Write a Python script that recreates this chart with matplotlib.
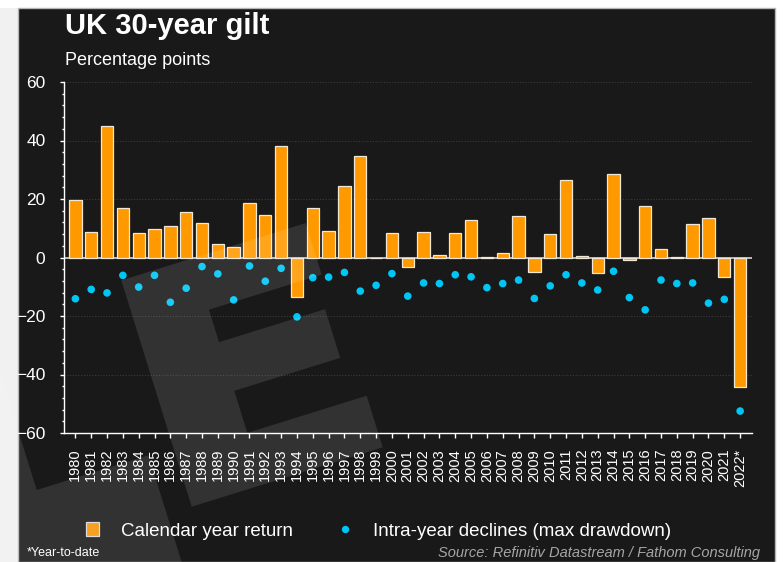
import matplotlib
matplotlib.use("Agg")
import matplotlib.pyplot as plt
from matplotlib.patches import Patch, Polygon, Rectangle
from matplotlib.lines import Line2D
from matplotlib.ticker import MultipleLocator
import numpy as np

plt.rcParams['font.family'] = ['Liberation Sans', 'DejaVu Sans']

# ---------------- data ----------------
years = ["1980", "1981", "1982", "1983", "1984", "1985", "1986", "1987", "1988", "1989",
         "1990", "1991", "1992", "1993", "1994", "1995", "1996", "1997", "1998", "1999",
         "2000", "2001", "2002", "2003", "2004", "2005", "2006", "2007", "2008", "2009",
         "2010", "2011", "2012", "2013", "2014", "2015", "2016", "2017", "2018", "2019",
         "2020", "2021", "2022*"]
calendar_return = [19.7, 8.8, 45.1, 17.0, 8.3, 9.6, 10.7, 15.4, 11.7, 4.5,
                   3.5, 18.6, 14.6, 38.0, -13.4, 16.8, 9.2, 24.4, 34.8, -0.3,
                   8.3, -3.4, 8.8, 0.9, 8.3, 12.8, 0.3, 1.6, 14.1, -5.1,
                   8.0, 26.5, 0.5, -5.3, 28.4, -0.7, 17.5, 3.0, 0.2, 11.5,
                   13.5, -6.5, -44.2]
max_drawdown = [-14.1, -10.9, -12.1, -6.1, -10.1, -6.1, -15.3, -10.5, -3.1, -5.6,
                -14.5, -2.9, -8.1, -3.7, -20.3, -6.9, -6.7, -5.1, -11.5, -9.5,
                -5.5, -13.2, -8.7, -8.9, -5.9, -6.6, -10.3, -8.9, -7.7, -14.0,
                -9.7, -5.9, -8.7, -11.1, -4.7, -13.7, -17.9, -7.7, -8.9, -8.7,
                -15.6, -14.3, -52.5]
y_ticks = [-60, -40, -20, 0, 20, 40, 60]

# ---------------- style ----------------
W, H = 784, 562
BG = '#191919'
ORANGE = '#ff9900'
CYAN = '#00c6f5'
WHITE = '#ffffff'

fig = plt.figure(figsize=(W / 100, H / 100), dpi=100, facecolor='white')

# dark panel + light left strip
fig.patches.append(Rectangle((0, 0), 18 / W, 1 - 8 / H, transform=fig.transFigure,
                             facecolor='#f1f1f1', edgecolor='none', zorder=-10))
fig.patches.append(Rectangle((18 / W, 0), (775 - 18) / W, 1 - 8 / H, transform=fig.transFigure,
                             facecolor=BG, edgecolor='#b5b5b5', linewidth=1.0, zorder=-9))

ax = fig.add_axes([63.5 / W, 1 - 433 / H, (752 - 63.5) / W, (433 - 82) / H])
ax.set_facecolor('none')

x = np.arange(len(years))
ax.bar(x, calendar_return, width=0.78, color=ORANGE, edgecolor='#f3e8d6',
       linewidth=0.9, zorder=3)
ax.scatter(x, max_drawdown, s=30, color=CYAN, edgecolors='none', zorder=4)

ax.set_xlim(-0.75, len(years) - 0.25)
ax.set_ylim(-60, 60)
ax.set_yticks(y_ticks)
ax.yaxis.set_minor_locator(MultipleLocator(4))
ax.set_xticks(x)
ax.set_xticklabels(years, rotation=90)

for yv in y_ticks:
    if yv not in (0, -60):
        ax.axhline(yv, color='#3a3a3a', lw=0.8, ls=(0, (1, 1.5)), zorder=1)
ax.axhline(0, color='#e8e8e8', lw=1.1, zorder=2)

for s in ['top', 'right']:
    ax.spines[s].set_visible(False)
for s in ['left', 'bottom']:
    ax.spines[s].set_color(WHITE)
    ax.spines[s].set_linewidth(1.0)

ax.tick_params(axis='y', which='major', colors=WHITE, length=3, width=1,
               labelsize=12.5, pad=10)
ax.tick_params(axis='y', which='minor', colors=WHITE, length=1.5, width=1)
ax.tick_params(axis='x', which='major', colors=WHITE, length=3.4, width=1,
               labelsize=10.5, pad=8)

# ---------------- texts ----------------
fig.text(65 / W, 1 - 34 / H, 'UK 30-year gilt', color=WHITE, fontsize=21,
         fontweight='bold', va='baseline', ha='left')
fig.text(65 / W, 1 - 65 / H, 'Percentage points', color=WHITE, fontsize=13,
         va='baseline', ha='left')
fig.text(27 / W, 1 - 556.5 / H, '*Year-to-date', color=WHITE, fontsize=9,
         va='baseline', ha='left')
fig.text(760 / W, 1 - 556.5 / H, 'Source: Refinitiv Datastream / Fathom Consulting',
         color='#a6a6a6', fontsize=10.5, style='italic', va='baseline', ha='right')

# ---------------- legend ----------------
handles = [Patch(facecolor='#f5a020', edgecolor='#dcdcdc', linewidth=0.9),
           Line2D([], [], marker='o', ls='', color=CYAN, markersize=5.3,
                  markeredgewidth=0)]
leg = fig.legend(handles, ['Calendar year return', 'Intra-year declines (max drawdown)'],
                 loc='center left', bbox_to_anchor=(86 / W, 1 - 531 / H), ncol=2,
                 frameon=False, fontsize=13.5, handlelength=0.68, handleheight=0.76,
                 handletextpad=1.17, columnspacing=2.45, borderpad=0, borderaxespad=0,
                 labelcolor=WHITE)

# ---------------- watermark ----------------
u = np.array([0.955, -0.297])
v = np.array([-0.297, -0.955])


def wm(origin, pts):
    out = []
    for pu, pv in pts:
        p = np.array(origin) + pu * u + pv * v
        out.append((p[0] / W, 1 - p[1] / H))
    return out

E_pts = [(0, 0), (200, 0), (200, 54), (75, 54), (75, 98), (186, 98), (186, 149),
         (75, 149), (75, 183), (193, 183), (193, 237), (0, 237)]
L_pts = [(0, 0), (117, 0), (117, -130), (-160, -130), (-160, 400), (0, 400)]
for origin, pts in [((191.7, 506.7), E_pts), ((36.7, 490.0), L_pts)]:
    fig.patches.append(Polygon(wm(origin, pts), closed=True, transform=fig.transFigure,
                               facecolor='white', edgecolor='none', alpha=0.11, zorder=5))

fig.savefig('out.png', dpi=100, facecolor=fig.get_facecolor())
